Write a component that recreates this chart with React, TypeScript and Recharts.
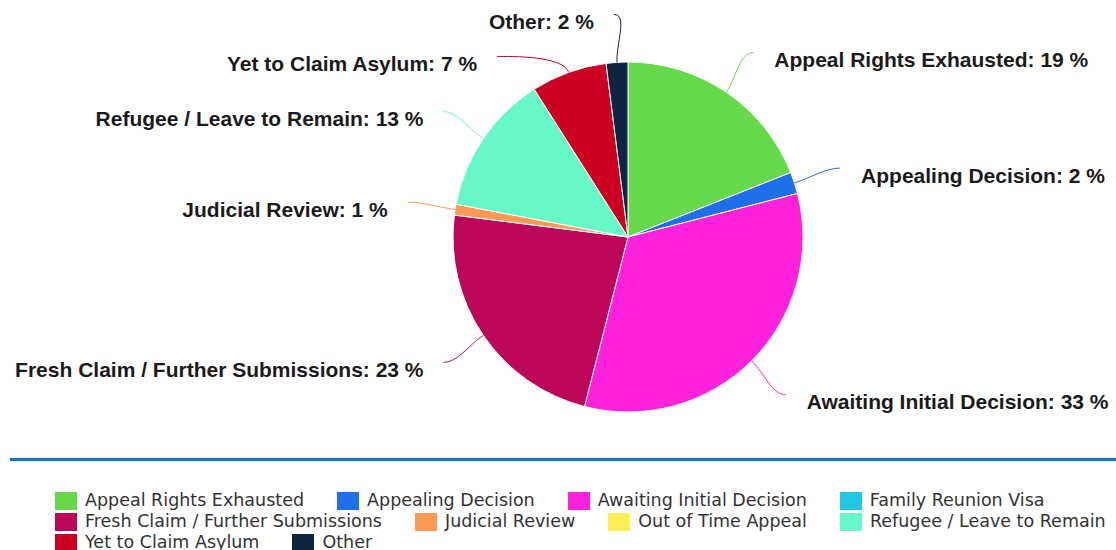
import { PieChart, Pie, Cell, Legend } from 'recharts';

const categories = [
  'Appeal Rights Exhausted',
  'Appealing Decision',
  'Awaiting Initial Decision',
  'Family Reunion Visa',
  'Fresh Claim / Further Submissions',
  'Judicial Review',
  'Out of Time Appeal',
  'Refugee / Leave to Remain',
  'Yet to Claim Asylum',
  'Other',
];
const shares = [19, 2, 33, 0, 23, 1, 0, 13, 7, 2];
const colors = [
  '#66d94a',
  '#1f6fea',
  '#ff22dd',
  '#22c8e3',
  '#bc0758',
  '#ff9955',
  '#ffee55',
  '#66f8c6',
  '#cc0020',
  '#0f2440',
];

const data = categories.map((name, i) => ({ name, value: shares[i] }));

const LABEL_DIST = 48;
const LABEL_GAP = 42;

// highcharts-like label placement: natural spot on a bigger circle, then push down on collision
function layoutLabels(cx: number, cy: number, r: number) {
  const total = shares.reduce((a, b) => a + b, 0);
  const R = r + LABEL_DIST;
  let cum = 0;
  const items: any[] = [];
  shares.forEach((v, i) => {
    const theta = (((cum + v / 2) / total) * 360 * Math.PI) / 180;
    cum += v;
    if (v <= 0) return;
    items.push({
      i,
      theta,
      right: Math.sin(theta) >= 0,
      y: cy - R * Math.cos(theta),
    });
  });
  [true, false].forEach((side) => {
    const col = items.filter((it) => it.right === side).sort((a, b) => a.y - b.y);
    for (let k = 1; k < col.length; k++) {
      col[k].y = Math.max(col[k].y, col[k - 1].y + LABEL_GAP);
    }
  });
  const out: Record<number, any> = {};
  items.forEach((it) => {
    const dy = it.y - cy;
    const dx = Math.sqrt(Math.max(0, R * R - dy * dy));
    out[it.i] = { ...it, x: cx + (it.right ? dx : -dx) };
  });
  return out;
}

function renderLabel(props: any) {
  const { cx, cy, outerRadius, index, name, value } = props;
  if (!value) return null;
  const pos = layoutLabels(cx, cy, outerRadius)[index];
  if (!pos) return null;
  const { theta, right, x, y } = pos;
  const x0 = cx + outerRadius * Math.sin(theta);
  const y0 = cy - outerRadius * Math.cos(theta);
  const x1 = cx + (outerRadius + 18) * Math.sin(theta);
  const y1 = cy - (outerRadius + 18) * Math.cos(theta);
  const x2 = right ? x - 14 : x + 14;
  return (
    <g>
      <path
        d={`M${x0},${y0} C${x1},${y1} ${x2},${y} ${x},${y}`}
        stroke={colors[index]}
        strokeWidth={1}
        fill="none"
      />
      <text
        x={right ? x + 21 : x - 20}
        y={y + 7}
        textAnchor={right ? 'start' : 'end'}
        dominantBaseline="central"
        fill="#1a1a1a"
        fontSize={21}
        fontWeight="bold"
        fontFamily="'Liberation Sans', Arial, sans-serif"
      >
        {`${name}: ${value} %`}
      </text>
    </g>
  );
}

function renderLegend() {
  return (
    <div
      style={{
        display: 'flex',
        flexWrap: 'wrap',
        columnGap: 33,
        fontFamily: "'DejaVu Sans', Verdana, sans-serif",
        fontSize: 17.5,
        lineHeight: '21px',
        color: '#333',
      }}
    >
      {categories.map((c, i) => (
        <div key={c} style={{ display: 'flex', alignItems: 'center', whiteSpace: 'nowrap' }}>
          <span
            style={{
              display: 'inline-block',
              width: 22,
              height: 18,
              background: colors[i],
              marginRight: 8,
            }}
          />
          {c}
        </div>
      ))}
    </div>
  );
}

export default function App() {
  return (
    <div style={{ position: 'absolute', left: 0, top: 0, width: 1116, height: 550, background: '#fff' }}>
      <PieChart width={1116} height={550} margin={{ top: 0, right: 0, bottom: 0, left: 0 }}>
        <Pie
          data={data}
          dataKey="value"
          nameKey="name"
          cx={628}
          cy={237}
          outerRadius={175}
          startAngle={90}
          endAngle={-270}
          stroke="#fff"
          strokeWidth={1}
          label={renderLabel}
          labelLine={false}
          isAnimationActive={false}
        >
          {data.map((_, i) => (
            <Cell key={i} fill={colors[i]} />
          ))}
        </Pie>
        <Legend
          content={renderLegend}
          wrapperStyle={{ position: 'absolute', left: 55, top: 490, width: 1061, bottom: 'auto' }}
        />
      </PieChart>
      {/* blue divider above the legend */}
      <div
        style={{
          position: 'absolute',
          left: 10,
          top: 458,
          width: 1106,
          height: 3,
          background: '#1b74c9',
          boxShadow: '0 0 2px #9cc6ee',
        }}
      />
    </div>
  );
}
